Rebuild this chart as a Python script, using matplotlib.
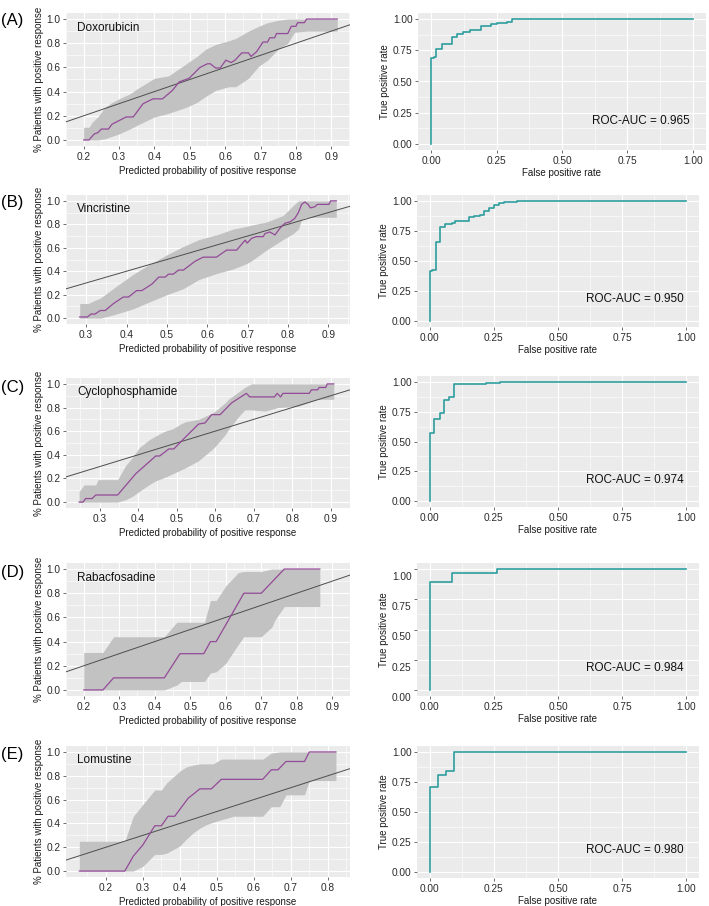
import matplotlib
matplotlib.use("Agg")
import matplotlib.pyplot as plt
import matplotlib.transforms as mtransforms
import numpy as np

plt.rcParams['font.family'] = ['Liberation Sans', 'DejaVu Sans']

drugs = ["Doxorubicin", "Vincristine", "Cyclophosphamide", "Rabacfosadine", "Lomustine"]
panel_tags = ["(A)", "(B)", "(C)", "(D)", "(E)"]
auc_text = ["0.965", "0.950", "0.974", "0.984", "0.980"]

# calibration curves (predicted prob vs observed fraction)
cal_x_A = [0.20, 0.215, 0.23, 0.24, 0.25, 0.27, 0.28, 0.30, 0.32, 0.34, 0.368, 0.396, 0.423, 0.451, 0.47, 0.498,
           0.529, 0.55, 0.558, 0.573, 0.586, 0.602, 0.617, 0.628, 0.647, 0.666, 0.673, 0.689, 0.707, 0.72, 0.726,
           0.74, 0.745, 0.777, 0.787, 0.80, 0.805, 0.824, 0.83, 0.917]
cal_y_A = [0.0, 0.0, 0.05, 0.06, 0.09, 0.09, 0.13, 0.16, 0.19, 0.19, 0.30, 0.34, 0.34, 0.41, 0.48, 0.51,
           0.60, 0.63, 0.63, 0.595, 0.595, 0.66, 0.64, 0.66, 0.72, 0.72, 0.69, 0.73, 0.81, 0.81, 0.845,
           0.845, 0.88, 0.88, 0.94, 0.94, 0.97, 0.97, 1.0, 1.0]
band_x_A = [0.20, 0.215, 0.225, 0.24, 0.26, 0.28, 0.30, 0.33, 0.35, 0.40, 0.44, 0.49, 0.52, 0.545, 0.573, 0.61,
            0.63, 0.666, 0.695, 0.72, 0.75, 0.777, 0.796, 0.83, 0.917]
band_lo_A = [0.0, 0.0, 0.0, 0.0, 0.01, 0.03, 0.05, 0.09, 0.12, 0.19, 0.22, 0.27, 0.31, 0.36, 0.41, 0.44,
             0.44, 0.51, 0.61, 0.66, 0.75, 0.80, 0.89, 0.90, 0.90]
band_hi_A = [0.105, 0.105, 0.15, 0.19, 0.27, 0.31, 0.34, 0.38, 0.42, 0.51, 0.53, 0.63, 0.69, 0.75, 0.79, 0.82,
             0.84, 0.90, 0.94, 0.97, 0.99, 1.0, 1.0, 1.0, 1.0]

cal_x_B = [0.284, 0.303, 0.312, 0.322, 0.335, 0.347, 0.368, 0.392, 0.405, 0.425, 0.438, 0.463, 0.48, 0.496,
           0.504, 0.516, 0.529, 0.541, 0.57, 0.59, 0.623, 0.648, 0.673, 0.694, 0.699, 0.71, 0.722, 0.739,
           0.743, 0.755, 0.768, 0.78, 0.793, 0.805, 0.817, 0.826, 0.834, 0.842, 0.85, 0.856, 0.867, 0.873,
           0.902, 0.906, 0.92]
cal_y_B = [0.01, 0.01, 0.035, 0.035, 0.065, 0.065, 0.125, 0.18, 0.18, 0.235, 0.235, 0.29, 0.35, 0.35,
           0.375, 0.375, 0.41, 0.41, 0.485, 0.52, 0.52, 0.58, 0.58, 0.665, 0.64, 0.68, 0.695, 0.695,
           0.72, 0.735, 0.71, 0.765, 0.81, 0.82, 0.85, 0.90, 0.97, 0.99, 0.97, 0.94, 0.95, 0.97,
           0.97, 1.0, 1.0]
band_x_B = [0.284, 0.305, 0.32, 0.335, 0.37, 0.417, 0.458, 0.50, 0.54, 0.58, 0.623, 0.665, 0.694, 0.706,
            0.747, 0.788, 0.813, 0.826, 0.834, 0.845, 0.92]
band_lo_B = [0.0, 0.0, 0.0, 0.0, 0.03, 0.08, 0.14, 0.20, 0.25, 0.33, 0.38, 0.42, 0.46, 0.48, 0.58, 0.67,
             0.72, 0.76, 0.84, 0.86, 0.86]
band_hi_B = [0.125, 0.125, 0.15, 0.17, 0.26, 0.375, 0.46, 0.54, 0.61, 0.67, 0.71, 0.76, 0.78, 0.79, 0.82,
             0.875, 0.96, 1.0, 1.0, 1.0, 1.0]

cal_x_C = [0.247, 0.257, 0.264, 0.281, 0.29, 0.347, 0.394, 0.446, 0.456, 0.48, 0.493, 0.523, 0.557, 0.574,
           0.591, 0.613, 0.643, 0.681, 0.69, 0.754, 0.761, 0.77, 0.776, 0.844, 0.85, 0.866, 0.87, 0.887,
           0.891, 0.908]
cal_y_C = [0.0, 0.0, 0.03, 0.03, 0.06, 0.06, 0.24, 0.39, 0.39, 0.45, 0.45, 0.55, 0.66, 0.67,
           0.74, 0.74, 0.84, 0.92, 0.89, 0.89, 0.92, 0.89, 0.92, 0.92, 0.95, 0.95, 0.97, 0.97,
           1.0, 1.0]
band_x_C = [0.247, 0.26, 0.29, 0.296, 0.347, 0.368, 0.386, 0.403, 0.43, 0.446, 0.47, 0.49, 0.51, 0.523,
            0.557, 0.59, 0.60, 0.626, 0.634, 0.66, 0.677, 0.694, 0.73, 0.763, 0.814, 0.84, 0.866, 0.908]
band_lo_C = [0.0, 0.0, 0.0, 0.0, 0.0, 0.02, 0.05, 0.09, 0.15, 0.18, 0.21, 0.24, 0.27, 0.29,
             0.35, 0.44, 0.47, 0.57, 0.61, 0.72, 0.78, 0.78, 0.77, 0.80, 0.81, 0.84, 0.87, 0.87]
band_hi_C = [0.09, 0.145, 0.145, 0.19, 0.19, 0.31, 0.38, 0.46, 0.53, 0.56, 0.60, 0.62, 0.66, 0.68,
             0.70, 0.75, 0.77, 0.84, 0.87, 0.93, 0.97, 1.0, 1.0, 1.0, 1.0, 1.0, 1.0, 1.0]

cal_x_D = [0.20, 0.254, 0.284, 0.427, 0.471, 0.538, 0.557, 0.573, 0.651, 0.70, 0.765, 0.865]
cal_y_D = [0.0, 0.0, 0.1, 0.1, 0.3, 0.3, 0.4, 0.4, 0.8, 0.8, 1.0, 1.0]
band_x_D = [0.20, 0.254, 0.284, 0.427, 0.462, 0.475, 0.54, 0.557, 0.573, 0.60, 0.635, 0.651, 0.70, 0.73,
            0.739, 0.765, 0.865]
band_lo_D = [0.0, 0.0, 0.0, 0.0, 0.04, 0.07, 0.07, 0.14, 0.15, 0.22, 0.375, 0.44, 0.44, 0.52, 0.58, 0.69, 0.69]
band_hi_D = [0.31, 0.31, 0.44, 0.44, 0.56, 0.56, 0.56, 0.74, 0.74, 0.86, 0.97, 0.98, 0.98, 1.0, 1.0, 1.0, 1.0]

cal_x_E = [0.128, 0.251, 0.274, 0.30, 0.332, 0.35, 0.368, 0.386, 0.422, 0.454, 0.485, 0.512, 0.624, 0.647,
           0.665, 0.687, 0.737, 0.75, 0.822]
cal_y_E = [0.0, 0.0, 0.125, 0.22, 0.38, 0.38, 0.46, 0.46, 0.61, 0.69, 0.69, 0.77, 0.77, 0.85,
           0.85, 0.92, 0.92, 1.0, 1.0]
band_x_E = [0.128, 0.251, 0.274, 0.30, 0.332, 0.35, 0.364, 0.382, 0.40, 0.418, 0.436, 0.454, 0.472, 0.49,
            0.512, 0.545, 0.624, 0.647, 0.67, 0.687, 0.737, 0.75, 0.822]
band_lo_E = [0.0, 0.0, 0.0, 0.04, 0.14, 0.14, 0.15, 0.18, 0.21, 0.27, 0.32, 0.36, 0.39, 0.41,
             0.43, 0.46, 0.46, 0.54, 0.54, 0.64, 0.64, 0.76, 0.76]
band_hi_E = [0.25, 0.25, 0.46, 0.56, 0.68, 0.68, 0.74, 0.79, 0.84, 0.875, 0.89, 0.90, 0.90, 0.90,
             0.94, 0.94, 0.94, 0.99, 1.0, 1.0, 1.0, 1.0, 1.0]

# ROC curves
fpr_A = [0, 0, 0.01, 0.02, 0.04, 0.08, 0.10, 0.12, 0.15, 0.19, 0.23, 0.25, 0.29, 0.31, 1.0]
tpr_A = [0, 0.69, 0.70, 0.76, 0.80, 0.86, 0.88, 0.90, 0.91, 0.945, 0.96, 0.97, 0.98, 1.0, 1.0]
fpr_B = [0, 0, 0.01, 0.023, 0.039, 0.06, 0.085, 0.098, 0.154, 0.173, 0.195, 0.211, 0.232, 0.251, 0.271,
         0.289, 0.339, 1.0]
tpr_B = [0, 0.42, 0.425, 0.655, 0.78, 0.81, 0.82, 0.83, 0.865, 0.875, 0.885, 0.92, 0.94, 0.965, 0.98,
         0.99, 1.0, 1.0]
fpr_C = [0, 0, 0.018, 0.038, 0.055, 0.074, 0.094, 0.22, 0.275, 1.0]
tpr_C = [0, 0.57, 0.69, 0.74, 0.85, 0.875, 0.985, 0.99, 1.0, 1.0]
fpr_D = [0, 0, 0.087, 0.262, 1.0]
tpr_D = [0, 0.894, 0.964, 1.0, 1.0]
fpr_E = [0, 0, 0.031, 0.065, 0.094, 1.0]
tpr_E = [0, 0.71, 0.81, 0.84, 1.0, 1.0]

cal_x = [cal_x_A, cal_x_B, cal_x_C, cal_x_D, cal_x_E]
cal_y = [cal_y_A, cal_y_B, cal_y_C, cal_y_D, cal_y_E]
band_x = [band_x_A, band_x_B, band_x_C, band_x_D, band_x_E]
band_lo = [band_lo_A, band_lo_B, band_lo_C, band_lo_D, band_lo_E]
band_hi = [band_hi_A, band_hi_B, band_hi_C, band_hi_D, band_hi_E]
fprs = [fpr_A, fpr_B, fpr_C, fpr_D, fpr_E]
tprs = [tpr_A, tpr_B, tpr_C, tpr_D, tpr_E]

left_xlim = [(0.161, 0.953), (0.25, 0.954), (0.213, 0.944), (0.166, 0.905), (0.092, 0.86)]
left_xticks = [np.arange(0.2, 0.91, 0.1), np.arange(0.3, 0.91, 0.1), np.arange(0.3, 0.91, 0.1),
               np.arange(0.2, 0.91, 0.1), np.arange(0.2, 0.81, 0.1)]

# panel boxes in pixels: (left, top, right, bottom)
W, H = 709, 906
left_boxes = [(66, 13, 350, 146), (66, 195, 350, 324), (66, 378, 350, 508), (66, 563, 350, 696), (66, 746, 350, 877)]
right_boxes = [(418, 13, 706, 150), (417, 195, 699, 327), (417, 376, 699, 507), (417, 563, 699, 696), (417, 746, 699, 878)]
tag_y = [20, 202, 387, 573, 755]

BG = '#EBEBEB'
TXT = '#2B2B2B'


def gg_axes(box):
    l, t, r, b = box
    ax = fig.add_axes([l / W, 1 - b / H, (r - l) / W, (b - t) / H])
    ax.set_facecolor(BG)
    for s in ax.spines.values():
        s.set_visible(False)
    ax.set_axisbelow(True)
    ax.grid(which='major', color='white', lw=0.8)
    ax.grid(which='minor', color='white', lw=0.4)
    ax.tick_params(which='major', length=2.5, width=0.5, color='#333333', labelsize=7.3, labelcolor=TXT, pad=1.5)
    ax.tick_params(which='minor', length=0)
    return ax


fig = plt.figure(figsize=(W / 100, H / 100), dpi=100)

for i in range(5):
    # calibration panel
    ax = gg_axes(left_boxes[i])
    ax.fill_between(band_x[i], band_lo[i], band_hi[i], color='#C2C2C2', lw=0, zorder=2)
    ax.axline((0, 0), (1, 1), color='#4D4D4D', lw=0.7, zorder=3)
    ax.plot(cal_x[i], cal_y[i], color='#934A98', lw=0.9, zorder=4)
    ax.set_xlim(left_xlim[i])
    ax.set_ylim(-0.05, 1.05)
    ax.set_xticks(left_xticks[i])
    ax.set_xticklabels(["%.1f" % v for v in left_xticks[i]])
    ax.set_xticks(np.append(left_xticks[i] - 0.05, left_xticks[i][-1] + 0.05), minor=True)
    ax.set_yticks(np.arange(0, 1.01, 0.2))
    ax.set_yticklabels(["%.1f" % v for v in np.arange(0, 1.01, 0.2)])
    ax.set_yticks(np.arange(0.1, 1.0, 0.2), minor=True)
    ax.set_xlabel("Predicted probability of positive response", fontsize=7, labelpad=3, color='#1A1A1A')
    ax.set_ylabel("% Patients with positive response", fontsize=7, labelpad=2, color='#1A1A1A')
    ax.text(0.04, 0.89, drugs[i], transform=ax.transAxes, fontsize=8.5, va='center', ha='left', color='#111111')

    # ROC panel
    ax2 = gg_axes(right_boxes[i])
    ax2.step(fprs[i], tprs[i], where='post', color='#2E9E9E', lw=1.2, zorder=4)
    ax2.set_xlim(-0.05, 1.05)
    ax2.set_ylim(-0.05, 1.05)
    rt = [0, 0.25, 0.5, 0.75, 1.0]
    ax2.set_xticks(rt)
    ax2.set_xticklabels(["%.2f" % v for v in rt])
    ax2.set_yticks(rt)
    ax2.set_yticklabels(["%.2f" % v for v in rt])
    ax2.set_xticks([0.125, 0.375, 0.625, 0.875], minor=True)
    ax2.set_yticks([0.125, 0.375, 0.625, 0.875], minor=True)
    ax2.set_xlabel("False positive rate", fontsize=7, labelpad=2, color='#1A1A1A')
    ax2.set_ylabel("True positive rate", fontsize=7, labelpad=2, color='#1A1A1A')
    ax2.text(0.8, 0.18, "ROC-AUC = " + auc_text[i], fontsize=8.5, ha='center', va='center', color='#111111')
    if i == 3:
        # y tick labels in this panel sit a bit low in the original
        off = mtransforms.ScaledTranslation(0, -5 / 72, fig.dpi_scale_trans)
        for lab in ax2.get_yticklabels():
            lab.set_transform(lab.get_transform() + off)

    fig.text(0.002, 1 - tag_y[i] / H, panel_tags[i], fontsize=12, va='center', ha='left')

fig.savefig("out.png", dpi=100, facecolor='white')
